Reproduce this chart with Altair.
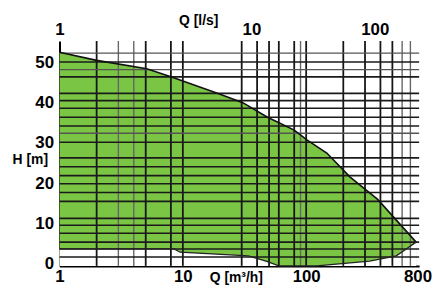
import altair as alt
import pandas as pd

# Envelope of the pump range (Q in m3/h, H in m)
Q_TOP = [1, 2, 5.1, 8.1, 19.3, 30.6, 48.6, 80, 102, 147, 226, 380, 779]
H_TOP = [52.5, 50.5, 48.4, 46.4, 42.3, 40.0, 36.4, 33.2, 30.7, 27.5, 21.6, 16.0, 5.4]
Q_BOT = [1, 8.5, 9.5, 34, 48, 60, 122, 327, 538, 648, 779]
H_BOT = [3.7, 3.7, 2.9, 2.0, 0.6, -0.5, -0.5, 0.7, 2.0, 3.7, 5.4]

# Grid lines
V_GRID_DARK = [2, 5, 8, 10, 30, 40, 50, 60, 80, 100, 200, 300, 400, 500]
V_GRID_LIGHT = [3, 4, 90, 600, 700]
H_GRID_DARK = [1.7, 3.7, 5.4, 7.6, 9.6, 11.3, 15.5, 17.7, 19.9, 21.9, 24.1, 26.3,
               30.2, 34.2, 36.4, 38.6, 40.5, 42.3, 46.4, 50.1]
H_GRID_LIGHT = [32.4, 48.2, 52.3]

X_TICKS = [1, 10, 100, 800]
TOP_TICKS = [1, 36, 360]          # positions (m3/h) of the l/s labels
TOP_LABELS = ["1", "10", "100"]
Y_TICKS = [0, 10, 20, 30, 40, 50]

X_DOMAIN = [1, 824]
Y_DOMAIN = [-0.5, 55.3]

FONT = "Liberation Sans"
GREEN = "#7bc545"

top_df = pd.DataFrame({"Q": Q_TOP, "H": H_TOP})
bot_df = pd.DataFrame({"Q": Q_BOT, "H": H_BOT})

xs = alt.Scale(type="log", domain=X_DOMAIN, nice=False)
ys = alt.Scale(domain=Y_DOMAIN, nice=False, zero=False)

label_expr = " : ".join(
    f"datum.value == {v} ? '{l}'" for v, l in zip(TOP_TICKS, TOP_LABELS)
) + " : ''"

bottom_axis = alt.Axis(
    values=X_TICKS, grid=False, ticks=False, labelPadding=3,
    labelFont=FONT, labelFontSize=17, labelFontWeight="bold", labelColor="black",
    labelFlush=False, labelOverlap=False,
    title="Q [m³/h]", titleFont=FONT, titleFontSize=14, titleFontWeight="bold",
    titleX=178, titleY=12, titleBaseline="middle", titleAlign="center",
    titleColor="black",
    domainColor="black", domainWidth=2, format="d",
)
left_axis = alt.Axis(
    values=Y_TICKS, grid=False, ticks=False, labelPadding=6,
    labelFont=FONT, labelFontSize=17, labelFontWeight="bold", labelColor="black",
    labelFlush=False,
    title="H [m]", titleFont=FONT, titleFontSize=14, titleFontWeight="bold",
    titleAngle=0, titleX=-30, titleY=120, titleBaseline="middle", titleAlign="center",
    titleColor="black",
    domainColor="black", domainWidth=2,
)
top_axis = alt.Axis(
    orient="top", values=TOP_TICKS, labelExpr=label_expr, grid=False, ticks=False,
    labelPadding=3, labelFont=FONT, labelFontSize=17, labelFontWeight="bold",
    labelColor="black", labelFlush=False, labelOverlap=False, domain=False,
    title="Q [l/s]", titleFont=FONT, titleFontSize=14, titleFontWeight="bold",
    titleX=140, titleY=-21, titleBaseline="middle", titleAlign="center",
    titleColor="black",
)

green = alt.Chart(top_df).mark_area(color=GREEN, opacity=1).encode(
    x=alt.X("Q:Q", scale=xs, axis=bottom_axis),
    y=alt.Y("H:Q", scale=ys, axis=left_axis),
    y2=alt.datum(Y_DOMAIN[0]),
)
white = alt.Chart(bot_df).mark_area(color="white", opacity=1).encode(
    x=alt.X("Q:Q", scale=xs, axis=None),
    y=alt.Y("H:Q", scale=ys, axis=None),
    y2=alt.datum(Y_DOMAIN[0]),
)

def vrules(vals, color, width):
    return alt.Chart(pd.DataFrame({"Q": vals})).mark_rule(
        color=color, strokeWidth=width).encode(x=alt.X("Q:Q", scale=xs, axis=None))

def hrules(vals, color, width):
    return alt.Chart(pd.DataFrame({"H": vals})).mark_rule(
        color=color, strokeWidth=width).encode(y=alt.Y("H:Q", scale=ys, axis=None))

top_line = alt.Chart(top_df).mark_line(color="#111", strokeWidth=1.6).encode(
    x=alt.X("Q:Q", scale=xs, axis=top_axis),
    y=alt.Y("H:Q", scale=ys, axis=None),
)
bot_line = alt.Chart(bot_df).mark_line(color="#222", strokeWidth=1.3).encode(
    x=alt.X("Q:Q", scale=xs, axis=None),
    y=alt.Y("H:Q", scale=ys, axis=None),
)

chart = alt.layer(
    green, white,
    vrules(V_GRID_LIGHT, "#666", 1.4), vrules(V_GRID_DARK, "#161616", 1.8),
    hrules(H_GRID_LIGHT, "#555", 1.4), hrules(H_GRID_DARK, "#1a1a1a", 1.6),
    top_line, bot_line,
).resolve_axis(x="independent", y="independent").properties(
    width=363, height=227,
    autosize=alt.AutoSizeParams(type="none"),
    padding={"left": 52, "top": 32, "right": 14, "bottom": 22},
    background="white",
).configure_view(stroke=None)

chart.save("out.html", embed_options={"renderer": "svg", "actions": False})
